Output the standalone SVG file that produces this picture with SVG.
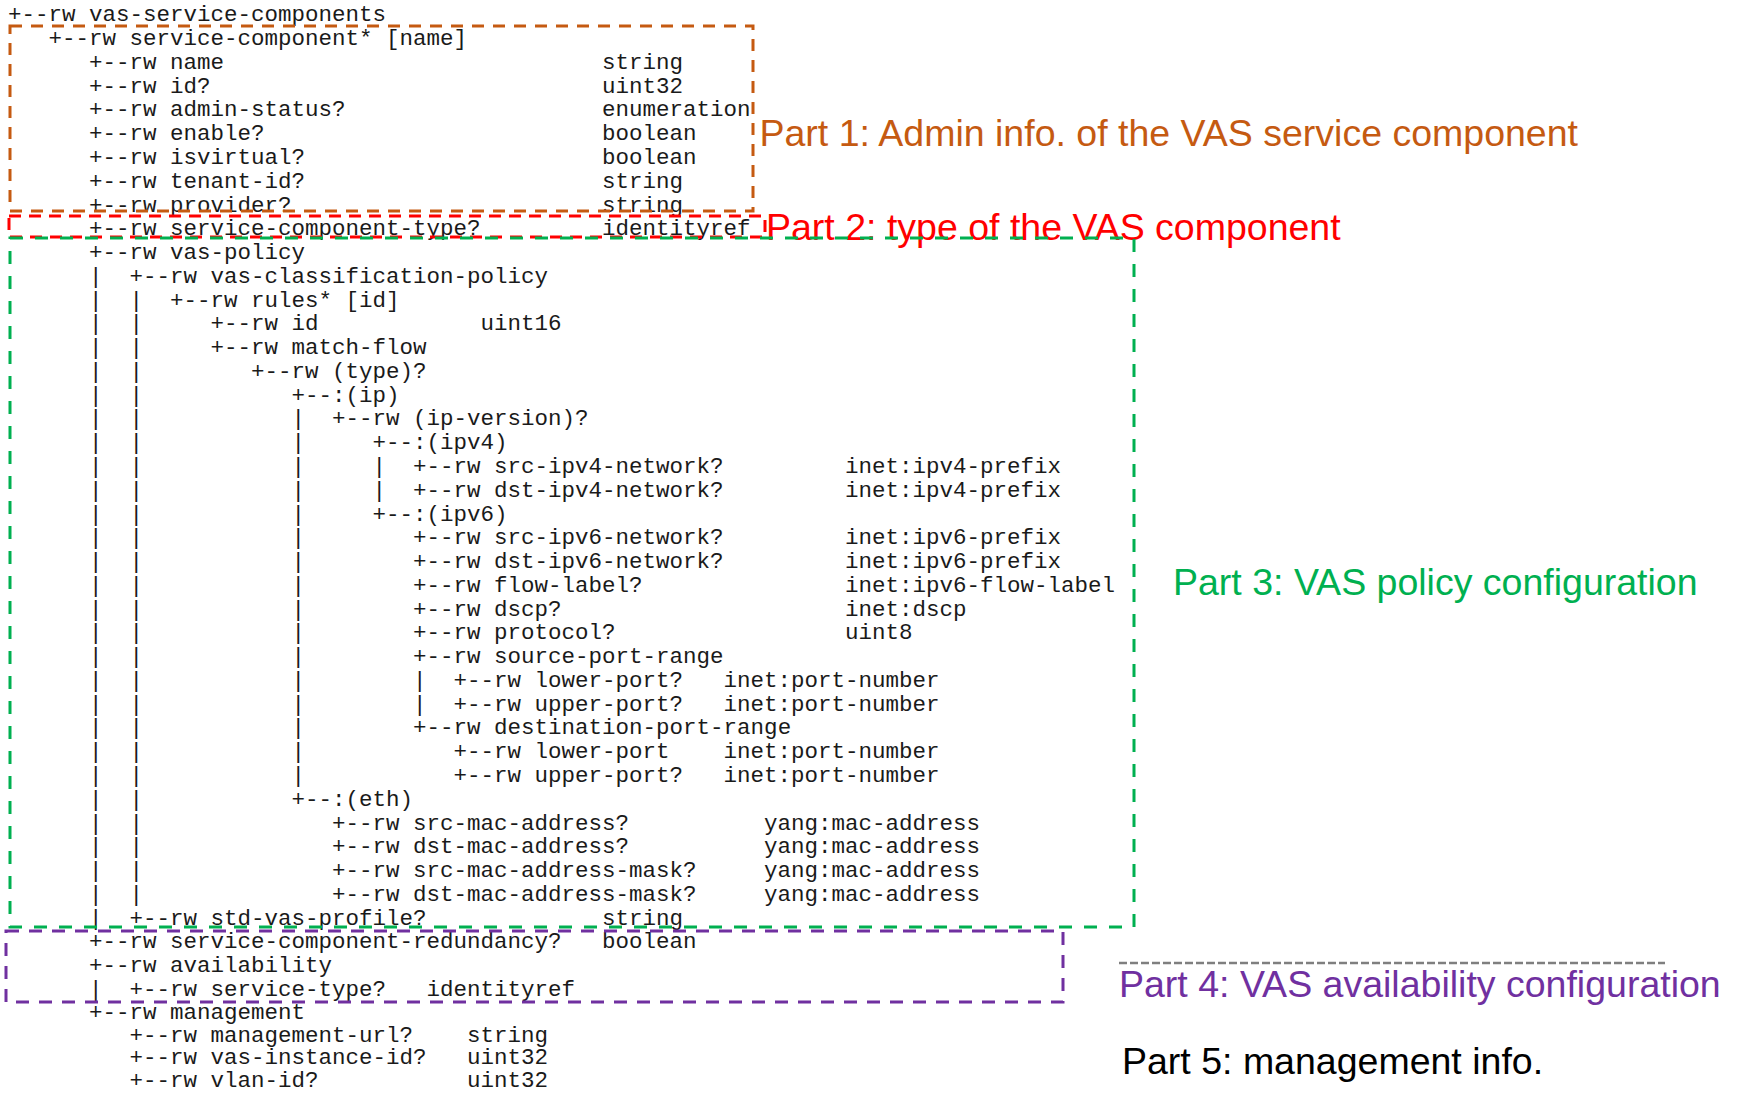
<svg xmlns="http://www.w3.org/2000/svg" width="1738" height="1094" viewBox="0 0 1738 1094">
  <style>
    .tree { font-family: "Liberation Mono", "DejaVu Sans Mono", monospace; font-size: 22.5px; fill: #1a1a1a; white-space: pre; }
    .label { font-family: "Liberation Sans", Arial, sans-serif; font-size: 37.5px; }
    .box { fill: none; stroke-width: 3; }
    .p1 { stroke: #C55A11; stroke-dasharray: 12 9; }
    .p2 { stroke: #FF0000; stroke-dasharray: 12 8; }
    .p3 { stroke: #00B050; stroke-dasharray: 13 12; }
    .p4 { stroke: #7030A0; stroke-dasharray: 13 10; }
  </style>
  <rect width="1738" height="1094" fill="#ffffff"/>

  <!-- YANG tree listing: one row every 23.77px, 13.5px per column -->
  <g id="tree">
    <text class="tree" xml:space="preserve">
      <tspan x="8" y="21.3">+--rw vas-service-components</tspan>
      <tspan x="8" y="45.1">   +--rw service-component* [name]</tspan>
      <tspan x="8" y="68.8">      +--rw name</tspan>
      <tspan x="8" y="92.6">      +--rw id?</tspan>
      <tspan x="8" y="116.4">      +--rw admin-status?</tspan>
      <tspan x="8" y="140.2">      +--rw enable?</tspan>
      <tspan x="8" y="163.9">      +--rw isvirtual?</tspan>
      <tspan x="8" y="187.7">      +--rw tenant-id?</tspan>
      <tspan x="8" y="211.5">      +--rw provider?</tspan>
      <tspan x="8" y="235.2">      +--rw service-component-type?</tspan>
      <tspan x="8" y="259.0">      +--rw vas-policy</tspan>
      <tspan x="8" y="282.8">      |  +--rw vas-classification-policy</tspan>
      <tspan x="8" y="306.5">      |  |  +--rw rules* [id]</tspan>
      <tspan x="8" y="330.3">      |  |     +--rw id</tspan>
      <tspan x="8" y="354.1">      |  |     +--rw match-flow</tspan>
      <tspan x="8" y="377.9">      |  |        +--rw (type)?</tspan>
      <tspan x="8" y="401.6">      |  |           +--:(ip)</tspan>
      <tspan x="8" y="425.4">      |  |           |  +--rw (ip-version)?</tspan>
      <tspan x="8" y="449.2">      |  |           |     +--:(ipv4)</tspan>
      <tspan x="8" y="472.9">      |  |           |     |  +--rw src-ipv4-network?</tspan>
      <tspan x="8" y="496.7">      |  |           |     |  +--rw dst-ipv4-network?</tspan>
      <tspan x="8" y="520.5">      |  |           |     +--:(ipv6)</tspan>
      <tspan x="8" y="544.2">      |  |           |        +--rw src-ipv6-network?</tspan>
      <tspan x="8" y="568.0">      |  |           |        +--rw dst-ipv6-network?</tspan>
      <tspan x="8" y="591.8">      |  |           |        +--rw flow-label?</tspan>
      <tspan x="8" y="615.6">      |  |           |        +--rw dscp?</tspan>
      <tspan x="8" y="639.3">      |  |           |        +--rw protocol?</tspan>
      <tspan x="8" y="663.1">      |  |           |        +--rw source-port-range</tspan>
      <tspan x="8" y="686.9">      |  |           |        |  +--rw lower-port?</tspan>
      <tspan x="8" y="710.6">      |  |           |        |  +--rw upper-port?</tspan>
      <tspan x="8" y="734.4">      |  |           |        +--rw destination-port-range</tspan>
      <tspan x="8" y="758.2">      |  |           |           +--rw lower-port</tspan>
      <tspan x="8" y="781.9">      |  |           |           +--rw upper-port?</tspan>
      <tspan x="8" y="805.7">      |  |           +--:(eth)</tspan>
      <tspan x="8" y="829.5">      |  |              +--rw src-mac-address?</tspan>
      <tspan x="8" y="853.3">      |  |              +--rw dst-mac-address?</tspan>
      <tspan x="8" y="877.0">      |  |              +--rw src-mac-address-mask?</tspan>
      <tspan x="8" y="900.8">      |  |              +--rw dst-mac-address-mask?</tspan>
      <tspan x="8" y="924.6">      |  +--rw std-vas-profile?</tspan>
      <tspan x="8" y="948.3">      +--rw service-component-redundancy?</tspan>
      <tspan x="8" y="972.1">      +--rw availability</tspan>
      <tspan x="8" y="995.9">      |  +--rw service-type?</tspan>
      <tspan x="8" y="1018.7">      +--rw management</tspan>
      <tspan x="8" y="1041.5">         +--rw management-url?</tspan>
      <tspan x="8" y="1064.3">         +--rw vas-instance-id?</tspan>
      <tspan x="8" y="1087.1">         +--rw vlan-id?</tspan>
    </text>
    <!-- leaf types -->
    <text class="tree">
      <tspan x="602" y="68.8">string</tspan>
      <tspan x="602" y="92.6">uint32</tspan>
      <tspan x="602" y="116.4">enumeration</tspan>
      <tspan x="602" y="140.2">boolean</tspan>
      <tspan x="602" y="163.9">boolean</tspan>
      <tspan x="602" y="187.7">string</tspan>
      <tspan x="602" y="211.5">string</tspan>
      <tspan x="602" y="235.2">identityref</tspan>
      <tspan x="480.5" y="330.3">uint16</tspan>
      <tspan x="845" y="472.9">inet:ipv4-prefix</tspan>
      <tspan x="845" y="496.7">inet:ipv4-prefix</tspan>
      <tspan x="845" y="544.2">inet:ipv6-prefix</tspan>
      <tspan x="845" y="568.0">inet:ipv6-prefix</tspan>
      <tspan x="845" y="591.8">inet:ipv6-flow-label</tspan>
      <tspan x="845" y="615.6">inet:dscp</tspan>
      <tspan x="845" y="639.3">uint8</tspan>
      <tspan x="723.5" y="686.9">inet:port-number</tspan>
      <tspan x="723.5" y="710.6">inet:port-number</tspan>
      <tspan x="723.5" y="758.2">inet:port-number</tspan>
      <tspan x="723.5" y="781.9">inet:port-number</tspan>
      <tspan x="764" y="829.5">yang:mac-address</tspan>
      <tspan x="764" y="853.3">yang:mac-address</tspan>
      <tspan x="764" y="877.0">yang:mac-address</tspan>
      <tspan x="764" y="900.8">yang:mac-address</tspan>
      <tspan x="602" y="924.6">string</tspan>
      <tspan x="602" y="948.3">boolean</tspan>
      <tspan x="426.5" y="995.9">identityref</tspan>
      <tspan x="467" y="1041.5">string</tspan>
      <tspan x="467" y="1064.3">uint32</tspan>
      <tspan x="467" y="1087.1">uint32</tspan>
    </text>
  </g>

  <!-- Part 1: admin info -->
  <g id="part1">
    <rect class="box p1" x="10" y="26" width="743" height="185"/>
    <text class="label" x="759.5" y="146" fill="#C55A11">Part 1: Admin info. of the VAS service component</text>
  </g>

  <!-- Part 2: component type -->
  <g id="part2">
    <rect class="box p2" x="9" y="216" width="756" height="21"/>
    <text class="label" x="766" y="240" fill="#FF0000">Part 2: type of the VAS component</text>
  </g>

  <!-- Part 3: policy configuration -->
  <g id="part3">
    <rect class="box p3" x="10" y="238" width="1124" height="689"/>
    <text class="label" x="1173" y="595" fill="#00B050">Part 3: VAS policy configuration</text>
  </g>

  <!-- Part 4: availability configuration -->
  <g id="part4">
    <rect class="box p4" x="6" y="931" width="1057" height="71"/>
    <line x1="1119" y1="963" x2="1665" y2="963" stroke="#7F7F7F" stroke-width="2.5" stroke-dasharray="8 3"/>
    <text class="label" x="1119" y="997" fill="#7030A0">Part 4: VAS availability configuration</text>
  </g>

  <!-- Part 5: management info -->
  <g id="part5">
    <text class="label" x="1122" y="1074" fill="#000000">Part 5: management info.</text>
  </g>
</svg>
